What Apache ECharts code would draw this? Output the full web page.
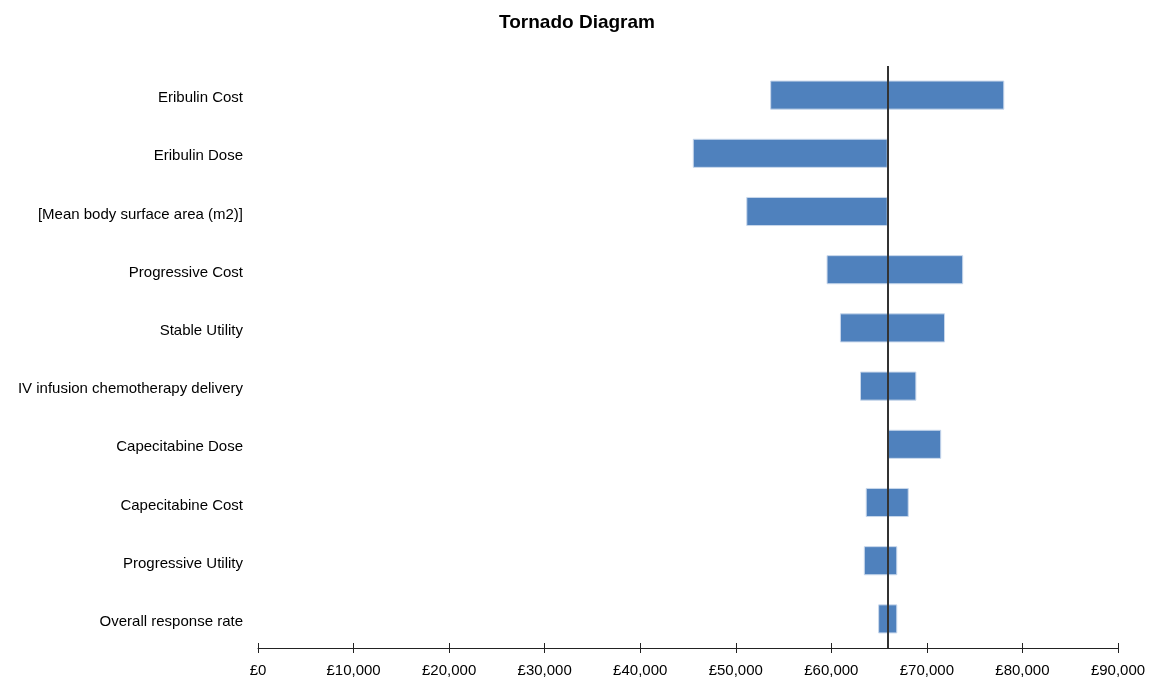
<!DOCTYPE html>
<html><head><meta charset="utf-8">
<script src="https://cdn.jsdelivr.net/npm/echarts@6/dist/echarts.min.js"></script>
<style>html,body{margin:0;padding:0;background:#fff}#c{width:1154px;height:682px}</style>
</head><body><div id="c"></div>
<script>
const categories = ["Eribulin Cost","Eribulin Dose","[Mean body surface area (m2)]","Progressive Cost","Stable Utility","IV infusion chemotherapy delivery","Capecitabine Dose","Capecitabine Cost","Progressive Utility","Overall response rate"];
const lowValues  = [53600, 45500, 51100, 59500, 60900, 63000, 65900, 63600, 63400, 64900];
const highValues = [78100, 65900, 65900, 73800, 71900, 68900, 71500, 68100, 66900, 66900];
const baseValue = 65900;
const tickValues = [0,10000,20000,30000,40000,50000,60000,70000,80000,90000];

const fmt = v => '£' + v.toLocaleString('en-GB');
const chart = echarts.init(document.getElementById('c'));
const xCommon = {type:'value', min:0, max:90000, interval:10000, splitLine:{show:false}};
chart.setOption({
  animation:false,
  title:{text:'Tornado Diagram', left:'center', top:8, textStyle:{fontFamily:'Liberation Sans, Arial', fontSize:19, fontWeight:'bold', color:'#000'}},
  grid:{left:258, right:36, top:66, bottom:34},
  xAxis:[
    Object.assign({}, xCommon, {position:'bottom',
      axisLine:{show:true, lineStyle:{color:'#222', width:1}},
      axisTick:{show:true, length:5, lineStyle:{color:'#222'}},
      axisLabel:{formatter:v=>tickValues.includes(v)?fmt(v):'', fontFamily:'Liberation Sans, Arial', fontSize:15, color:'#000', margin:15}}),
    Object.assign({}, xCommon, {position:'bottom',
      axisLine:{show:false},
      axisTick:{show:true, inside:true, length:5, lineStyle:{color:'#222'}},
      axisLabel:{show:false}})
  ],
  yAxis:{type:'category', data:categories, inverse:true,
    axisLine:{show:false}, axisTick:{show:false},
    axisLabel:{margin:15, formatter:v=>'{a|' + v + '}',
      rich:{a:{fontFamily:'Liberation Sans, Arial', fontSize:15, color:'#000', padding:[6,0,0,0]}}}},
  series:[
    {type:'bar', stack:'t', data:lowValues, itemStyle:{color:'transparent'}, barWidth:'50%', silent:true},
    {type:'bar', stack:'t', data:highValues.map((h,i)=>h-lowValues[i]), barWidth:'50%',
      itemStyle:{color:'#4F81BD', borderColor:'#C9D8EC', borderWidth:1},
      markLine:{symbol:'none', silent:true, label:{show:false},
        lineStyle:{color:'#333', width:2, type:'solid'}, data:[{xAxis:baseValue}]}}
  ]
});
</script></body></html>
